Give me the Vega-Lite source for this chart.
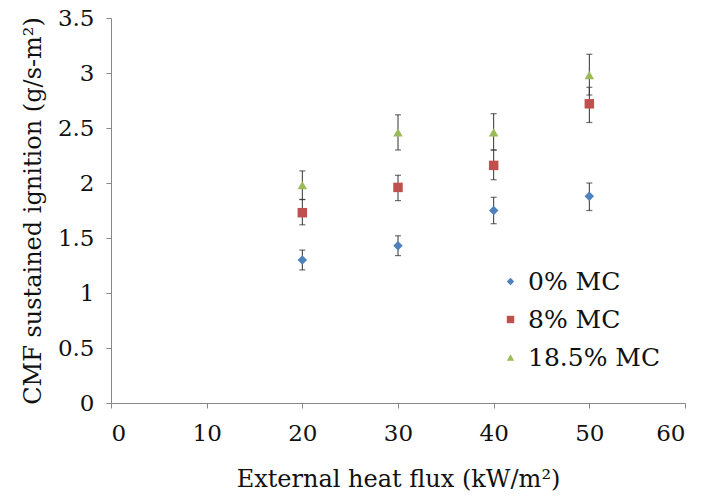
{
  "$schema": "https://vega.github.io/schema/vega-lite/v6.json",
  "width": 574,
  "height": 385,
  "autosize": {"type": "none"},
  "padding": {"left": 111, "top": 18, "right": 18, "bottom": 97},
  "background": "white",
  "config": {
    "view": {"stroke": null},
    "font": "DejaVu Serif",
    "axis": {"grid": false, "domainColor": "#888888", "tickColor": "#888888", "tickSize": 5, "labelFont": "DejaVu Serif", "titleFont": "DejaVu Serif", "labelFontSize": 23, "titleFontSize": 24, "labelColor": "#111111", "titleColor": "#111111", "titleFontWeight": "normal"},
    "legend": {"labelFont": "DejaVu Serif"}
  },
  "data": {
    "values": [
      {"flux": 20, "series": "0% MC", "cmf": 1.30, "lo": 1.21, "hi": 1.39},
      {"flux": 30, "series": "0% MC", "cmf": 1.43, "lo": 1.34, "hi": 1.52},
      {"flux": 40, "series": "0% MC", "cmf": 1.75, "lo": 1.63, "hi": 1.87},
      {"flux": 50, "series": "0% MC", "cmf": 1.88, "lo": 1.75, "hi": 2.00},
      {"flux": 20, "series": "8% MC", "cmf": 1.73, "lo": 1.62, "hi": 1.85},
      {"flux": 30, "series": "8% MC", "cmf": 1.96, "lo": 1.84, "hi": 2.07},
      {"flux": 40, "series": "8% MC", "cmf": 2.16, "lo": 2.03, "hi": 2.30},
      {"flux": 50, "series": "8% MC", "cmf": 2.72, "lo": 2.55, "hi": 2.87},
      {"flux": 20, "series": "18.5% MC", "cmf": 1.98, "lo": 1.85, "hi": 2.11},
      {"flux": 30, "series": "18.5% MC", "cmf": 2.46, "lo": 2.30, "hi": 2.62},
      {"flux": 40, "series": "18.5% MC", "cmf": 2.46, "lo": 2.30, "hi": 2.63},
      {"flux": 50, "series": "18.5% MC", "cmf": 2.98, "lo": 2.80, "hi": 3.17}
    ]
  },
  "encoding": {
    "x": {"field": "flux", "type": "quantitative", "scale": {"domain": [0, 60], "nice": false}, "axis": {"values": [0, 10, 20, 30, 40, 50, 60], "title": "External heat flux (kW/m²)", "labelPadding": 14, "titlePadding": 22}},
    "y": {"field": "cmf", "type": "quantitative", "scale": {"domain": [0, 3.5], "nice": false}, "axis": {"values": [0, 0.5, 1, 1.5, 2, 2.5, 3, 3.5], "format": "~g", "title": "CMF sustained ignition (g/s-m²)", "labelPadding": 12, "titlePadding": 12}}
  },
  "layer": [
    {
      "mark": {"type": "rule", "color": "#333333", "strokeWidth": 1},
      "encoding": {"y": {"field": "lo", "type": "quantitative"}, "y2": {"field": "hi"}}
    },
    {
      "mark": {"type": "tick", "orient": "horizontal", "color": "#333333", "size": 6, "thickness": 1.2},
      "encoding": {"y": {"field": "lo", "type": "quantitative"}}
    },
    {
      "mark": {"type": "tick", "orient": "horizontal", "color": "#333333", "size": 6, "thickness": 1.2},
      "encoding": {"y": {"field": "hi", "type": "quantitative"}}
    },
    {
      "mark": {"type": "point", "filled": true, "opacity": 1, "size": 90},
      "encoding": {
        "color": {"field": "series", "type": "nominal", "scale": {"domain": ["0% MC", "8% MC", "18.5% MC"], "range": ["#4F81BD", "#C0504D", "#9BBB59"]}, "legend": {"title": null, "orient": "none", "legendX": 387, "legendY": 251, "labelFontSize": 25, "labelColor": "#111111", "symbolSize": 55, "rowPadding": 12, "labelOffset": 5}},
        "shape": {"field": "series", "type": "nominal", "scale": {"domain": ["0% MC", "8% MC", "18.5% MC"], "range": ["diamond", "square", "triangle-up"]}, "legend": {"title": null, "orient": "none", "legendX": 387, "legendY": 251, "labelFontSize": 25, "labelColor": "#111111", "symbolSize": 55, "rowPadding": 12, "labelOffset": 5}}
      }
    }
  ]
}
